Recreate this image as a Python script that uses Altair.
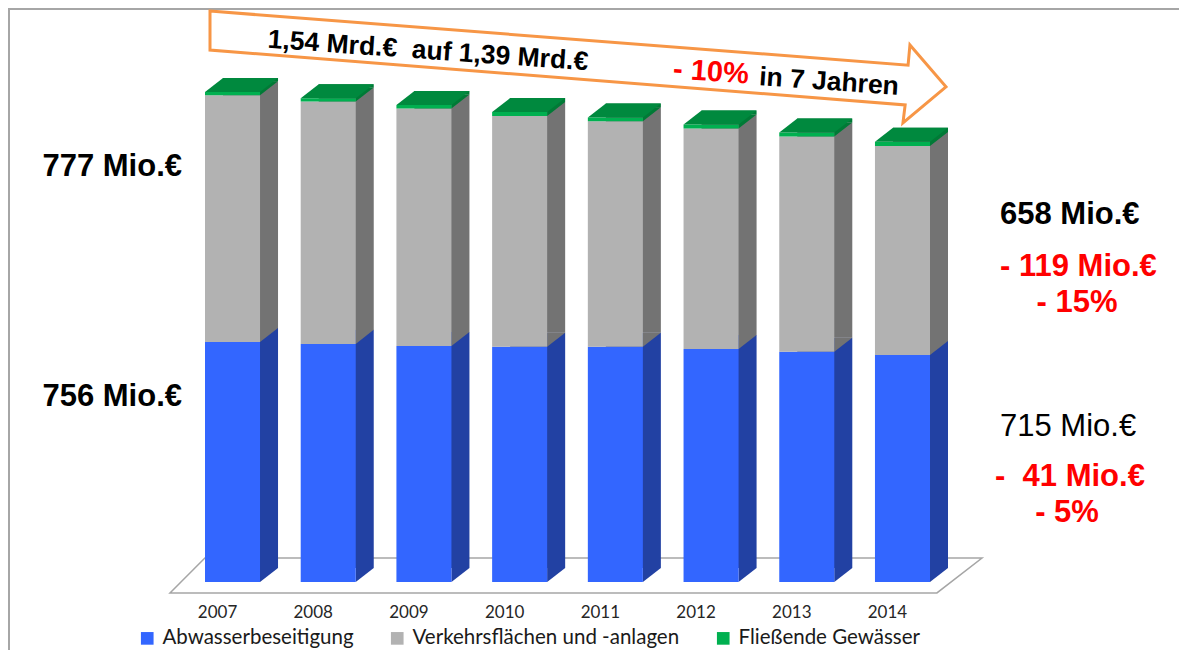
import altair as alt
import pandas as pd

# ---------------- data ----------------
years = ["2007", "2008", "2009", "2010", "2011", "2012", "2013", "2014"]
abwasser = [756, 750, 743, 741, 741, 734, 725, 715]
verkehr = [777, 763, 748, 727, 710, 694, 678, 658]
gewaesser = [10, 11, 11, 12, 12, 13, 13, 14]
categories = ["Abwasserbeseitigung", "Verkehrsflächen und -anlagen", "Fließende Gewässer"]

front_colors = ["#3366FF", "#B2B2B2", "#00B050"]
side_colors = ["#2241A3", "#737373", "#007A36"]
top_color = "#00893E"

rows = []
for i, yr in enumerate(years):
    for k, vals in enumerate([abwasser, verkehr, gewaesser]):
        rows.append({"year": yr, "category": categories[k], "order": k,
                     "value": vals[i], "side": side_colors[k]})
df = pd.DataFrame(rows)
one = pd.DataFrame({"a": [0]})

# derived annotation texts
NB = "\u00a0"
tot_first = abwasser[0] + verkehr[0] + gewaesser[0]
tot_last = abwasser[-1] + verkehr[-1] + gewaesser[-1]
fmt_mrd = lambda v: f"{v/1000:.2f}".replace(".", ",")
pct_tot = round((tot_last - tot_first) / tot_first * 100)
d_v = verkehr[-1] - verkehr[0]
d_a = abwasser[-1] - abwasser[0]
pct_v = round(d_v / verkehr[0] * 100)
pct_a = round(d_a / abwasser[0] * 100)

# ---------------- geometry / style ----------------
W, H = 1171, 642
DX, DY, BW = 18, 14, 55

xscale = alt.Scale(domain=years, range=[197, 922], paddingInner=0.425, paddingOuter=0)
yscale = alt.Scale(domain=[0, 1600], range=[574, 66], nice=False, zero=True)
X = alt.X("year:O", axis=None, scale=xscale)

base = alt.Chart(df).transform_stack(
    stack="value", as_=["y0", "y1"], groupby=["year"],
    sort=[alt.SortField("order", order="ascending")]
)

# side faces (shifted back boxes)
side = base.mark_bar(xOffset=DX, yOffset=-DY, y2Offset=-DY).encode(
    x=X, y=alt.Y("y0:Q", axis=None, scale=yscale), y2="y1:Q",
    fill=alt.Fill("side:N", scale=None),
)

# triangles completing the slanted lower edge of each side face
TRI = "M -1 0.778 L -1 -0.778 L 1 -0.778 Z"
tri = base.mark_point(shape=TRI, size=DX * DX, filled=True, opacity=1, strokeWidth=0,
                      xOffset=BW / 2 + DX / 2, yOffset=-DY / 2).encode(
    x=X, y=alt.Y("y0:Q", axis=None, scale=yscale),
    fill=alt.Fill("side:N", scale=None),
)

# front faces
front = base.mark_bar().encode(
    x=X, y=alt.Y("y0:Q", axis=None, scale=yscale), y2="y1:Q",
    color=alt.Color("category:N", sort=categories,
                    scale=alt.Scale(domain=categories, range=front_colors),
                    legend=alt.Legend(orient="none", legendX=129, legendY=620,
                                      direction="horizontal", title=None,
                                      symbolType="square", symbolSize=160,
                                      symbolStrokeWidth=0, labelFont="Lato",
                                      labelFontSize=20.5, labelColor="#1a1a1a",
                                      labelLimit=0, labelOffset=5,
                                      columnPadding=33)),
)

# top faces
TOP = "M -1 0.1918 L 0.5068 0.1918 L 1 -0.1918 L -0.5068 -0.1918 Z"
top = base.transform_filter(alt.datum.order == 2).mark_point(
    shape=TOP, size=(BW + DX) ** 2, filled=True, fill=top_color, opacity=1,
    strokeWidth=0, xOffset=DX / 2, yOffset=-DY / 2).encode(
    x=X, y=alt.Y("y1:Q", axis=None, scale=yscale)
)

# floor
FLOOR = "M -0.914 -0.043 L 1 -0.043 L 0.889 0.043 L -1 0.043 Z"
floor = alt.Chart(one).mark_point(shape=FLOOR, size=812 ** 2, filled=False,
                                  fill="white", fillOpacity=1, stroke="#A6A6A6",
                                  strokeWidth=1.5, opacity=1).encode(
    x=alt.value(568), y=alt.value(567.5))

# year labels
year_text = alt.Chart(pd.DataFrame({"year": years})).mark_text(
    font="Lato", fontSize=17, color="#262626", dx=-15).encode(
    x=X, y=alt.value(605), text="year:N")

# border (top and left)
border_top = alt.Chart(one).mark_rule(color="#A6A6A6", strokeWidth=2).encode(
    x=alt.value(0), x2=alt.value(W), y=alt.value(1))
border_left = alt.Chart(one).mark_rule(color="#A6A6A6", strokeWidth=2).encode(
    x=alt.value(1), y=alt.value(0), y2=alt.value(H))

# arrow
ARROW = ("M -1 -0.152 L 0.897 -0.005 L 0.902 -0.060 L 1 0.054 L 0.883 0.152 "
         "L 0.889 0.103 L -1 -0.046 Z")
arrow = alt.Chart(one).mark_point(shape=ARROW, size=736 ** 2, filled=False,
                                  fill="white", fillOpacity=1, stroke="#F79646",
                                  strokeWidth=3, opacity=1).encode(
    x=alt.value(570), y=alt.value(59))


def txt(s, x, y, size=31, color="black", weight="bold", align="left", angle=0):
    return alt.Chart(one).mark_text(
        font="Liberation Sans", fontSize=size, fontWeight=weight, color=color,
        align=align, baseline="middle", angle=angle).encode(
        x=alt.value(x), y=alt.value(y), text=alt.value(s))


texts = [
    txt(f"{fmt_mrd(tot_first)} Mrd.€{NB} auf {fmt_mrd(tot_last)} Mrd.€", 420, 43, size=26.5, align="center", angle=4),
    txt(f"- {abs(pct_tot)}%", 703, 64, size=29, color="#FF0000", align="center", angle=4),
    txt("in 7 Jahren", 821, 74, size=26.5, align="center", angle=4),
    txt(f"{verkehr[0]} Mio.€", 174, 159, align="right"),
    txt(f"{abwasser[0]} Mio.€", 174, 389, align="right"),
    txt(f"{verkehr[-1]} Mio.€", 992, 207),
    txt(f"- {abs(d_v)} Mio.€", 992, 259, color="#FF0000"),
    txt(f"- {abs(pct_v)}%", 1069, 295, color="#FF0000", align="center"),
    txt(f"{abwasser[-1]} Mio.€", 992, 419, weight="normal"),
    txt(f"-{NB} {abs(d_a)} Mio.€", 987, 469, color="#FF0000"),
    txt(f"- {abs(pct_a)}%", 1059, 505, color="#FF0000", align="center"),
]

chart = alt.layer(
    border_top, border_left, floor, side, tri, front, top, year_text, arrow, *texts
).properties(
    width=W, height=H, padding=0,
    autosize=alt.AutoSizeParams(type="none"),
).configure_view(stroke=None).configure(background="white")

chart.save("out.html", embed_options={"renderer": "svg", "actions": False})
